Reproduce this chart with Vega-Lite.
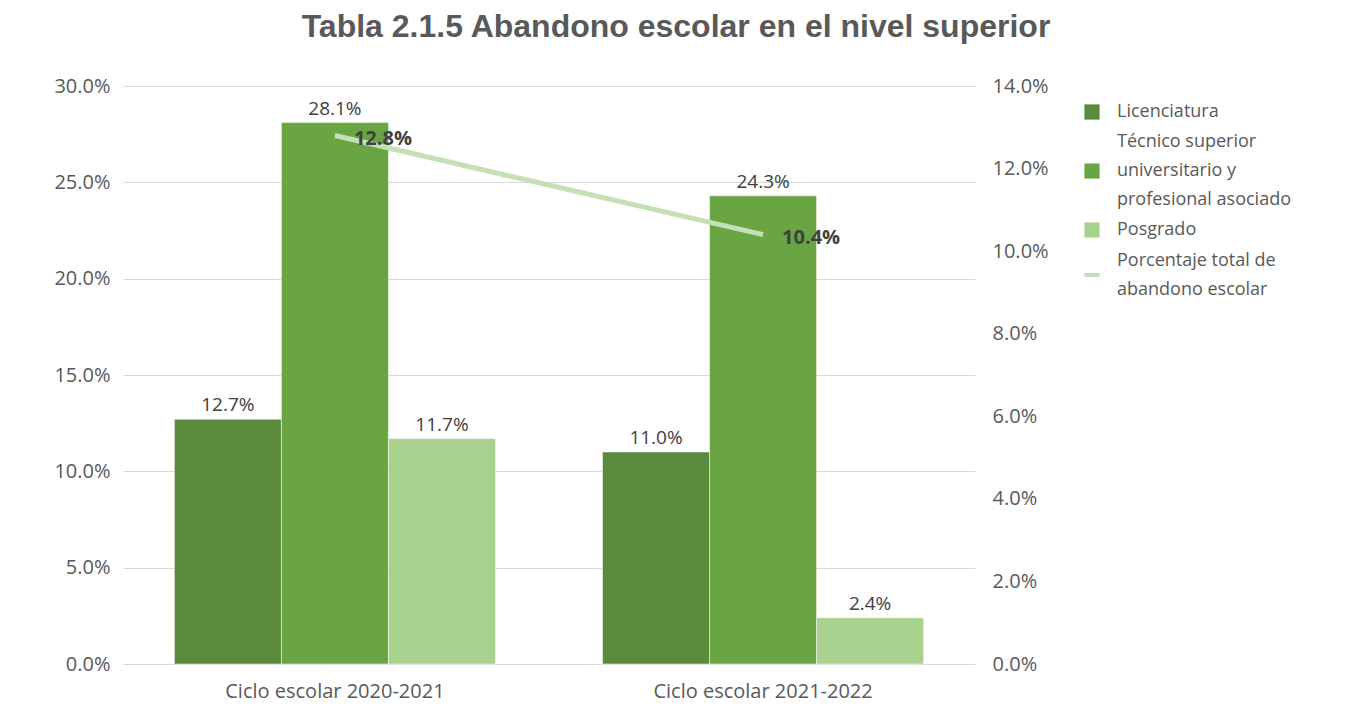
{
  "$schema": "https://vega.github.io/schema/vega-lite/v6.json",
  "width": 852,
  "height": 578,
  "autosize": {"type": "none"},
  "padding": {"left": 123, "top": 86, "right": 371, "bottom": 51},
  "background": "white",
  "title": {
    "text": "Tabla 2.1.5 Abandono escolar en el nivel superior",
    "font": "Liberation Sans",
    "fontSize": 32,
    "fontWeight": "bold",
    "color": "#595959",
    "anchor": "middle",
    "dx": 127,
    "offset": 32
  },
  "datasets": {
    "bars": [
      {"ciclo": "Ciclo escolar 2020-2021", "nivel": "Licenciatura", "valor": 0.127},
      {"ciclo": "Ciclo escolar 2020-2021", "nivel": "Técnico superior universitario y profesional asociado", "valor": 0.281},
      {"ciclo": "Ciclo escolar 2020-2021", "nivel": "Posgrado", "valor": 0.117},
      {"ciclo": "Ciclo escolar 2021-2022", "nivel": "Licenciatura", "valor": 0.110},
      {"ciclo": "Ciclo escolar 2021-2022", "nivel": "Técnico superior universitario y profesional asociado", "valor": 0.243},
      {"ciclo": "Ciclo escolar 2021-2022", "nivel": "Posgrado", "valor": 0.024}
    ],
    "total": [
      {"ciclo": "Ciclo escolar 2020-2021", "serie": "Porcentaje total de abandono escolar", "total": 0.128},
      {"ciclo": "Ciclo escolar 2021-2022", "serie": "Porcentaje total de abandono escolar", "total": 0.104}
    ]
  },
  "config": {
    "view": {"stroke": null},
    "font": "Open Sans",
    "style": {
      "guide-label": {
        "lineHeight": 29,
        "dy": {"expr": "datum.value == 'Técnico superior universitario y profesional asociado' ? -29 : datum.value == 'Porcentaje total de abandono escolar' ? -14.5 : 0"}
      }
    }
  },
  "layer": [
    {
      "data": {"name": "bars"},
      "encoding": {
        "x": {
          "field": "ciclo", "type": "nominal",
          "scale": {"paddingInner": 0.25, "paddingOuter": 0.12},
          "axis": {
            "title": null, "labelAngle": 0, "labelFont": "Open Sans", "labelFontSize": 20,
            "labelColor": "#595959", "ticks": false, "domainColor": "#d9d9d9", "labelPadding": 17,
            "labelLimit": 500
          }
        },
        "xOffset": {
          "field": "nivel", "type": "nominal",
          "sort": ["Licenciatura", "Técnico superior universitario y profesional asociado", "Posgrado"],
          "scale": {"paddingInner": 0, "paddingOuter": 0}
        },
        "y": {
          "field": "valor", "type": "quantitative",
          "scale": {"domain": [0, 0.3]},
          "axis": {
            "title": null, "format": ".1%", "values": [0, 0.05, 0.1, 0.15, 0.2, 0.25, 0.3],
            "labelFont": "Open Sans", "labelFontSize": 20, "labelColor": "#595959",
            "ticks": false, "domain": false, "labelPadding": 13,
            "grid": true, "gridColor": "#d9d9d9", "gridWidth": 1
          }
        }
      },
      "layer": [
        {
          "mark": {"type": "bar", "stroke": "white", "strokeWidth": 0.5},
          "encoding": {
            "color": {
              "field": "nivel", "type": "nominal",
              "scale": {
                "domain": ["Licenciatura", "Técnico superior universitario y profesional asociado", "Posgrado", "Porcentaje total de abandono escolar"],
                "range": ["#5a8a3c", "#6aa544", "#a9d18e", "#c5e0b4"]
              },
              "legend": {
                "title": null,
                "orient": "none",
                "legendX": 960,
                "legendY": 17,
                "labelFont": "Open Sans",
                "labelFontSize": 18,
                "labelColor": "#595959",
                "labelLimit": 400,
                "symbolSize": 230,
                "symbolType": {"expr": "datum.value == 'Porcentaje total de abandono escolar' ? 'stroke' : 'square'"},
                "symbolStrokeWidth": {"expr": "datum.value == 'Porcentaje total de abandono escolar' ? 4 : 0"},
                "symbolStrokeColor": {"expr": "datum.value == 'Porcentaje total de abandono escolar' ? '#c5e0b4' : 'transparent'"},
                "labelOffset": 16,
                "rowPadding": 12,
                "labelExpr": "datum.label == 'Técnico superior universitario y profesional asociado' ? ['Técnico superior', 'universitario y', 'profesional asociado'] : datum.label == 'Porcentaje total de abandono escolar' ? ['Porcentaje total de', 'abandono escolar'] : datum.label"
              }
            }
          }
        },
        {
          "mark": {"type": "text", "baseline": "bottom", "dy": -4, "font": "Open Sans", "fontSize": 19, "color": "#404040"},
          "encoding": {
            "text": {"field": "valor", "type": "quantitative", "format": ".1%"}
          }
        }
      ]
    },
    {
      "data": {"name": "total"},
      "encoding": {
        "x": {"field": "ciclo", "type": "nominal"},
        "y": {
          "field": "total", "type": "quantitative",
          "scale": {"domain": [0, 0.14]},
          "axis": {
            "title": null, "orient": "right", "format": ".1%",
            "values": [0, 0.02, 0.04, 0.06, 0.08, 0.1, 0.12, 0.14],
            "labelFont": "Open Sans", "labelFontSize": 20, "labelColor": "#595959",
            "ticks": false, "domain": false, "labelPadding": 17, "grid": false
          }
        }
      },
      "layer": [
        {
          "mark": {"type": "line", "strokeWidth": 5, "color": "#c5e0b4"},
          "encoding": {}
        },
        {
          "mark": {"type": "text", "align": "center", "baseline": "middle", "dx": 48, "dy": 3, "font": "Open Sans", "fontSize": 20, "fontWeight": "bold", "color": "#404040"},
          "encoding": {
            "text": {"field": "total", "type": "quantitative", "format": ".1%"}
          }
        }
      ]
    }
  ],
  "resolve": {"scale": {"y": "independent"}}
}
